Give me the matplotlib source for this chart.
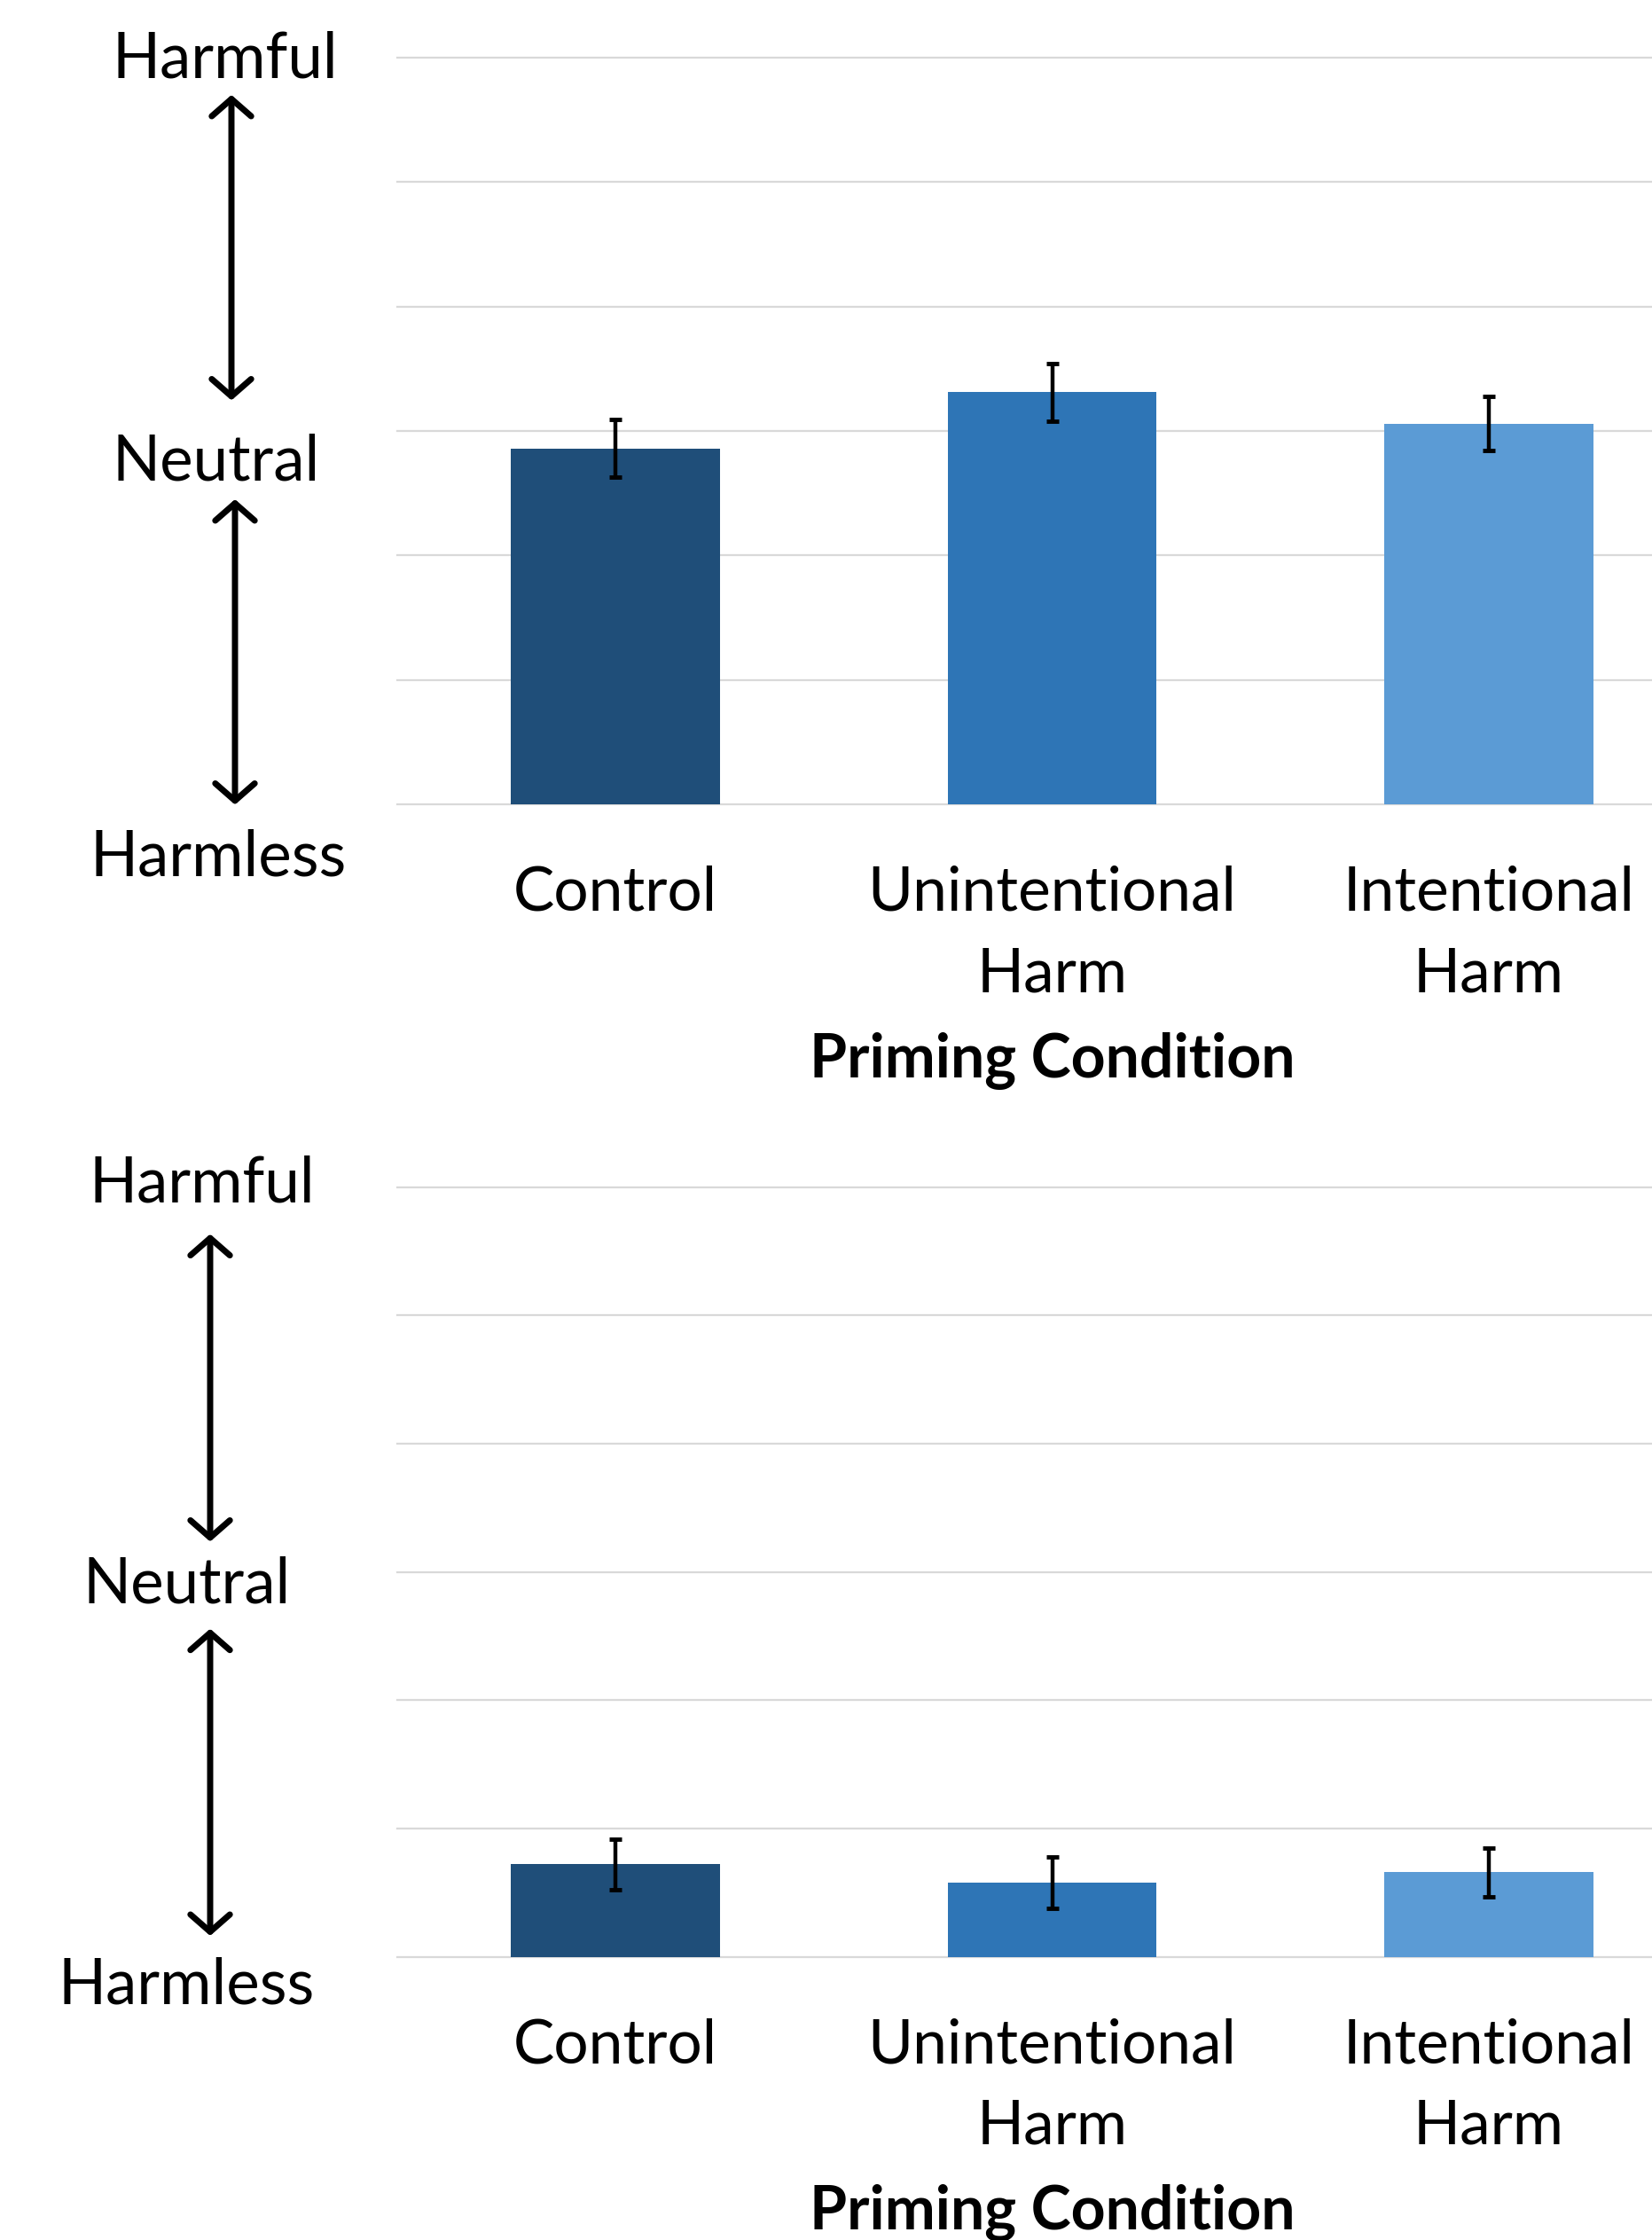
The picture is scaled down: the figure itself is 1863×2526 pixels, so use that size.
import numpy as np
import matplotlib.pyplot as plt
from matplotlib.patches import FancyArrowPatch

plt.rcParams['font.family'] = ['Lato', 'DejaVu Sans']

# ---- data ----
conditions = ["Control", "Unintentional\nHarm", "Intentional\nHarm"]
bar_colors = ["#1F4E79", "#2E75B6", "#5B9BD5"]
scale_labels = ["Harmful", "Neutral", "Harmless"]

# upper panel
means_top = [3.86, 4.31, 4.06]
err_top = [0.23, 0.23, 0.22]
# lower panel
means_bottom = [1.72, 1.58, 1.66]
err_bottom = [0.20, 0.20, 0.19]

W, H = 1863, 2526
fig = plt.figure(figsize=(W / 100, H / 100), dpi=100)


def fx(x):
    return x / W


def fy(y):
    return 1 - y / H


def draw_panel(ax, means, errs):
    x = np.arange(len(conditions))
    ax.bar(x, np.array(means) - 1, bottom=1, width=0.478, color=bar_colors, zorder=2)
    ax.errorbar(x, means, yerr=errs, fmt='none', ecolor='black',
                elinewidth=3.2, capsize=5, capthick=3.5, zorder=3)
    ax.set_xlim(-0.5, 2.5)
    ax.set_ylim(1, 7)
    ax.set_yticks(np.arange(1, 8))
    ax.yaxis.grid(True, color='#d9d9d9', lw=1.6)
    for ln in ax.get_ygridlines():
        ln.set_clip_on(False)
    ax.set_axisbelow(True)
    for s in ax.spines.values():
        s.set_visible(False)
    ax.tick_params(axis='y', left=False, labelleft=False)
    ax.tick_params(axis='x', bottom=False, pad=46, labelsize=50)
    ax.set_xticks(x)
    ax.set_xticklabels(conditions, linespacing=1.56)
    ax.set_xlabel("Priming Condition", fontsize=49, fontweight='bold', labelpad=24)


def v_arrow(x, y0, y1):
    fig.add_artist(FancyArrowPatch((fx(x), fy(y0)), (fx(x), fy(y1)),
                                   transform=fig.transFigure,
                                   arrowstyle='<->,head_length=0.7,head_width=0.8',
                                   mutation_scale=20, lw=5, color='black',
                                   shrinkA=0, shrinkB=0))


ax1 = fig.add_axes([fx(448), fy(907), 1477 / W, (907 - 65) / H])
draw_panel(ax1, means_top, err_top)
ax2 = fig.add_axes([fx(448), fy(2206.6), 1477 / W, (2206.6 - 1338.6) / H])
draw_panel(ax2, means_bottom, err_bottom)

# side scale labels and arrows
for lab, (x, y) in zip(scale_labels, [(254, 87), (244, 541), (246, 987)]):
    fig.text(fx(x), fy(y), lab, ha='center', va='baseline', fontsize=51)
for lab, (x, y) in zip(scale_labels, [(228, 1355), (211, 1807), (210, 2259)]):
    fig.text(fx(x), fy(y), lab, ha='center', va='baseline', fontsize=51)

v_arrow(261, 107, 451.5)
v_arrow(265, 563, 907.5)
v_arrow(237, 1391.6, 1738.5)
v_arrow(237, 1836.7, 2183)

fig.savefig("out.png", dpi=100)
